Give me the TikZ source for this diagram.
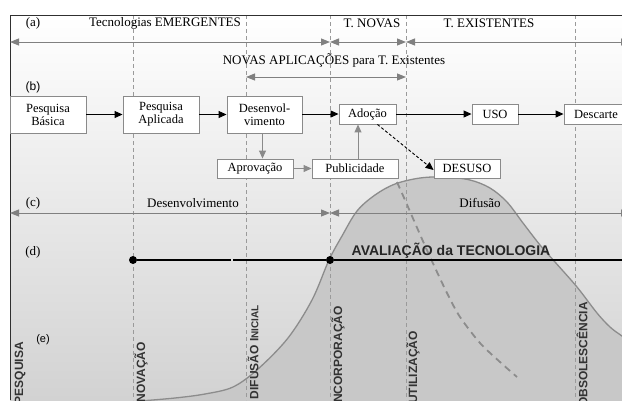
\documentclass[tikz,border=0pt]{standalone}
\usepackage{fontspec}
\setmainfont{Liberation Serif}
\setsansfont{Liberation Sans}
\usetikzlibrary{arrows.meta,calc}
\definecolor{bxgray}{HTML}{8A8A8A}
\definecolor{spangray}{HTML}{808080}
\definecolor{dashgray}{HTML}{9A9A9A}
\definecolor{bgbot}{HTML}{D2D2D2}
\definecolor{curvefill}{HTML}{C8C8C8}
\definecolor{curveline}{HTML}{8C8C8C}
\definecolor{framecol}{HTML}{303030}
\tikzset{
  bx/.style={draw=bxgray, fill=white, line width=0.9pt, inner sep=0pt, align=center,
             font=\fontsize{12.5}{13}\selectfont},
  blkarr/.style={-{Triangle[length=8pt,width=7pt]}, line width=1pt, black},
  gryarr/.style={-{Triangle[length=8pt,width=7pt]}, line width=1pt, bxgray},
  spanarr/.style={{Triangle[length=9pt,width=7pt]}-{Triangle[length=9pt,width=7pt]}, line width=1pt, spangray},
  vdash/.style={draw=dashgray, line width=0.7pt, dash pattern=on 4pt off 3pt},
  lbl/.style={font=\fontsize{13}{13}\selectfont, inner sep=0pt},
  slbl/.style={font=\sffamily\fontsize{12}{12}\selectfont, inner sep=0pt},
  vlbl/.style={rotate=90, anchor=east, font=\sffamily\bfseries\fontsize{12}{12}\selectfont, inner sep=0pt, text=black!80},
  dotn/.style={circle, fill=black, inner sep=0pt, minimum size=8pt},
}
\begin{document}
\begin{tikzpicture}[x=1pt,y=-1pt]
\useasboundingbox (0,0) rectangle (622,400);
\clip (0,0) rectangle (622,400);
% background
\shade[top color=white, bottom color=bgbot] (10,15) rectangle (622,400);
% diffusion curve
\fill[curvefill] plot[smooth, tension=0.55] coordinates {(140,401) (175,398) (205,394) (233,387) (258,369) (288,338) (312,300) (329,260) (342,236) (357,211) (375,195) (395,184) (420,178) (445,177) (470,180) (490,188) (507,202) (523,223) (540,245) (555,262) (577,287) (597,313) (610,327) (622,336) (640,348)} -- (640,410) -- (140,410) -- cycle;
\draw[curveline, line width=1.3pt] plot[smooth, tension=0.55] coordinates {(140,401) (175,398) (205,394) (233,387) (258,369) (288,338) (312,300) (329,260) (342,236) (357,211) (375,195) (395,184) (420,178) (445,177) (470,180) (490,188) (507,202) (523,223) (540,245) (555,262) (577,287) (597,313) (610,327) (622,336) (640,348)};
% desuso dashed curve
\draw[curveline, line width=1.8pt, dash pattern=on 7pt off 5pt] plot[smooth] coordinates {(397,182) (405,200) (415,223) (426,248) (437,272) (448,295) (460,317) (480,343) (500,362) (517,377)};
% dashed verticals
\foreach \xv in {133,246,330,406,575} \draw[vdash] (\xv,15) -- (\xv,400);
% frame
\draw[framecol, line width=0.9pt] (10,400) -- (10,15) -- (622,15);
% row (a)
\coordinate (a0) at (10,42); \coordinate (a1) at (330,42); \coordinate (a2) at (406,42); \coordinate (a3) at (630,42);
\draw[spanarr] (a0) -- (a1);
\draw[spanarr] (a1) -- (a2);
\draw[spanarr] (a2) -- (a3);
\node[lbl] (la) at (33,23) {(a)};
\node[lbl] (te) at (165,23) {Tecnologias EMERGENTES};
\node[lbl] (tn) at (372,23) {T. NOVAS};
\node[lbl] (tx) at (489,23) {T. EXISTENTES};
\node[lbl] (na) at (334,60) {NOVAS APLICAÇÕES para T. Existentes};
\coordinate (n0) at (246,77); \coordinate (n1) at (406,77);
\draw[spanarr] (n0) -- (n1);
% row (b)
\node[slbl] (lb) at (33,87) {(b)};
\node[bx, minimum width=76pt, minimum height=37pt] (pb) at (48,114.5) {Pesquisa\\Básica};
\node[bx, minimum width=76pt, minimum height=37pt] (pa) at (161,114.5) {Pesquisa\\Aplicada};
\node[bx, minimum width=75pt, minimum height=37pt] (dv) at (264.5,114.5) {Desenvol-\\vimento};
\node[bx, minimum width=57pt, minimum height=20pt] (ad) at (367.5,114) {Adoção};
\node[bx, minimum width=46pt, minimum height=20pt] (us) at (495,114) {USO};
\node[bx, minimum width=64pt, minimum height=20pt] (ds) at (596,114) {Descarte};
\node[bx, minimum width=76pt, minimum height=19pt] (ap) at (255,168.5) {Aprovação};
\node[bx, minimum width=86pt, minimum height=19pt] (pu) at (355,168.5) {Publicidade};
\node[bx, minimum width=66pt, minimum height=19pt] (de) at (467,168.5) {DESUSO};
\draw[blkarr] (pb) -- (pa);
\draw[blkarr] (pa) -- (dv);
\draw[blkarr] (dv.east |- ad) -- (ad);
\draw[blkarr] (ad) -- (us);
\draw[blkarr] (us) -- (ds);
\draw[gryarr] ([xshift=-2pt]dv.south) -- ([xshift=-2pt]dv.south |- ap.north);
\draw[gryarr] (ap) -- (pu);
\draw[gryarr] ([xshift=3pt]pu.north) -- ([xshift=3pt]pu.north |- ad.south);
\draw[blkarr, line width=0.9pt, dash pattern=on 3pt off 2pt] ([xshift=-19pt]ad.south east) -- ([yshift=-1.5pt]de.west);
% row (c)
\node[lbl] (lc) at (33,203) {(c)};
\node[lbl] (dvl) at (193,203) {Desenvolvimento};
\node[lbl] (dfl) at (480,203) {Difusão};
\coordinate (c0) at (10,213); \coordinate (c1) at (330,213); \coordinate (c2) at (630,213);
\draw[spanarr] (c0) -- (c1);
\draw[spanarr] (c1) -- (c2);
% row (d)
\node[lbl] (ld) at (33,252) {(d)};
\node[font=\sffamily\bfseries\fontsize{14}{14}\selectfont, inner sep=0pt, text=black!85] (av) at (451,251) {AVALIAÇÃO da TECNOLOGIA};
\node[dotn] (d1) at (133,260) {};
\node[dotn] (d2) at (330,260) {};
\coordinate (dm1) at (231,260); \coordinate (dm2) at (233,260); \coordinate (dend) at (630,260);
\draw[line width=1.2pt] (d1) -- (dm1);
\draw[line width=2.6pt] (dm2) -- (d2);
\draw[line width=1.2pt] (d2) -- (dend);
% row (e)
\node[slbl, font=\sffamily\fontsize{11}{11}\selectfont] (le) at (43,340) {(e)};
\node[vlbl] (vp) at (20,342) {PESQUISA};
\node[vlbl] (vi) at (141,342) {INOVAÇÃO};
\node[vlbl] (vd) at (253,305) {DIFUSÃO I{\fontsize{10}{10}\selectfont NICIAL}};
\node[vlbl] (vc) at (338,306) {INCORPORAÇÃO};
\node[vlbl] (vu) at (413,331) {UTILIZAÇÃO};
\node[vlbl] (vo) at (582,302) {OBSOLESCÊNCIA};
\end{tikzpicture}
\end{document}
